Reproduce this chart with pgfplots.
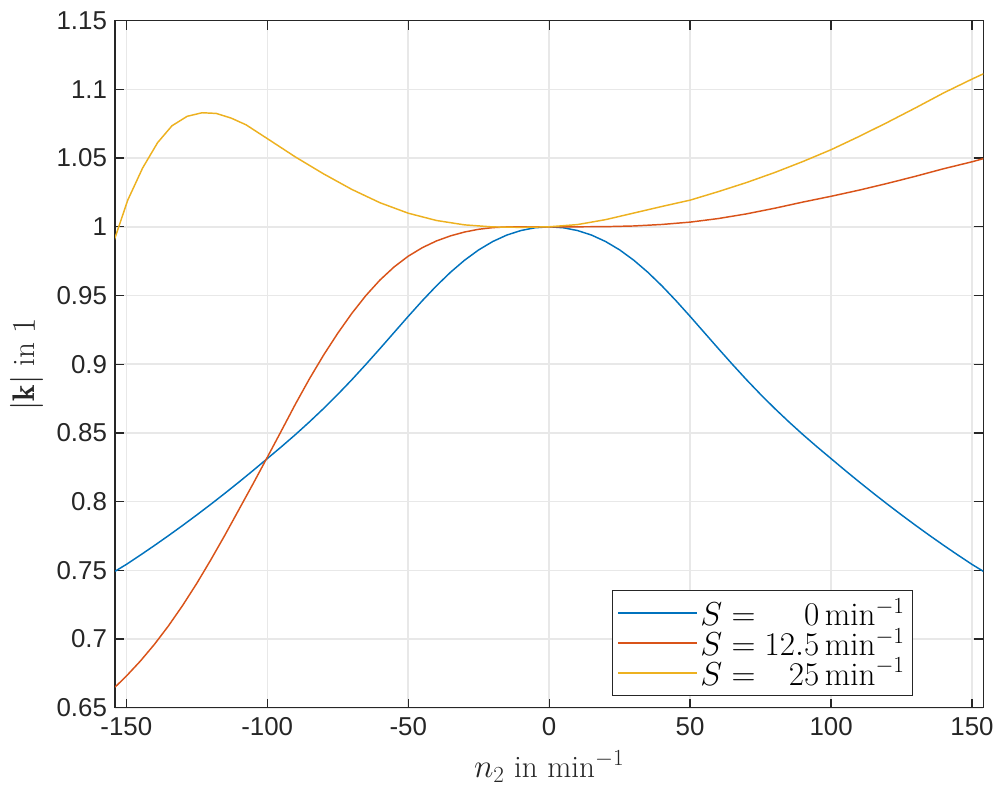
\documentclass[border=0pt]{standalone}
\usepackage{fontspec}
\usepackage{pgfplots}
\usepackage{pgfplotstable}
\pgfplotsset{compat=1.18}
\newfontfamily\ticksans{Liberation Sans}

\definecolor{mblue}{rgb}{0,0.447,0.741}
\definecolor{mred}{rgb}{0.850,0.325,0.098}
\definecolor{myellow}{rgb}{0.929,0.694,0.125}
\definecolor{axgray}{rgb}{0.15,0.15,0.15}
\definecolor{gridgray}{rgb}{0.91,0.91,0.91}

% |k| over n2 for S = 0
\pgfplotstableread{
n k
-154 0.7493
-150 0.7543
-145 0.7611
-140 0.7681
-135 0.7753
-130 0.7827
-125 0.7903
-120 0.7981
-115 0.8061
-110 0.8143
-105 0.8227
-100 0.8313
-95 0.8399
-90 0.8488
-85 0.8581
-80 0.8678
-75 0.8780
-70 0.8887
-65 0.8999
-60 0.9114
-55 0.9231
-50 0.9348
-45 0.9462
-40 0.9570
-35 0.9669
-30 0.9757
-25 0.9832
-20 0.9893
-15 0.9940
-10 0.9973
-5 0.9993
0 1.0000
5 0.9993
10 0.9973
15 0.9940
20 0.9893
25 0.9832
30 0.9757
35 0.9669
40 0.9570
45 0.9462
50 0.9348
55 0.9231
60 0.9114
65 0.8999
70 0.8887
75 0.8780
80 0.8678
85 0.8581
90 0.8488
95 0.8399
100 0.8313
105 0.8227
110 0.8143
115 0.8061
120 0.7981
125 0.7903
130 0.7827
135 0.7753
140 0.7681
145 0.7611
150 0.7543
154 0.7493
}\dataA

% S = 12.5
\pgfplotstableread{
n k
-154 0.6650
-150 0.6730
-145 0.6840
-140 0.6962
-135 0.7097
-130 0.7245
-125 0.7405
-120 0.7577
-115 0.7757
-110 0.7944
-105 0.8131
-100 0.8322
-95 0.8515
-90 0.8710
-85 0.8895
-80 0.9067
-75 0.9225
-70 0.9370
-65 0.9500
-60 0.9613
-55 0.9708
-50 0.9786
-45 0.9848
-40 0.9897
-35 0.9934
-30 0.9962
-25 0.9982
-20 0.9994
-15 0.9999
-10 1.0000
0 1.0000
10 1.0000
20 1.0001
30 1.0006
40 1.0017
50 1.0034
60 1.0060
70 1.0094
80 1.0135
90 1.0180
100 1.0222
110 1.0267
120 1.0316
130 1.0368
140 1.0423
150 1.0473
154 1.0496
}\dataB

% S = 25
\pgfplotstableread{
n k
-154.2 0.9907
-149.5 1.0193
-144.2 1.0428
-138.9 1.0612
-133.8 1.0735
-128.4 1.0804
-123.1 1.0830
-118.1 1.0825
-112.8 1.0791
-107.5 1.0742
-100 1.0642
-90 1.0508
-80 1.0385
-70 1.0272
-60 1.0175
-50 1.0099
-40 1.0046
-30 1.0014
-20 0.9999
-10 0.9996
0 1.0000
10 1.0016
20 1.0052
30 1.0100
40 1.0148
50 1.0194
60 1.0256
70 1.0322
80 1.0395
90 1.0475
100 1.0561
110 1.0658
120 1.0760
130 1.0866
140 1.0975
150 1.1075
154 1.1113
}\dataC

\begin{document}
\begin{tikzpicture}
\begin{axis}[
  name=ax,
  scale only axis,
  width=651.2pt, height=515.3pt,
  xmin=-154, xmax=154, ymin=0.65, ymax=1.15,
  xtick={-150,-100,-50,0,50,100,150},
  xticklabels={-150,-100,-50,0,50,100,150},
  ytick={0.65,0.7,0.75,0.8,0.85,0.9,0.95,1,1.05,1.1,1.15},
  yticklabels={0.65,0.7,0.75,0.8,0.85,0.9,0.95,1,1.05,1.1,1.15},
  grid=major,
  major grid style={gridgray, line width=1.1pt},
  axis line style={axgray, line width=1pt},
  tick style={axgray, line width=1pt},
  major tick length=6.75pt,
  tick align=inside,
  ticklabel style={font=\ticksans\fontsize{19.4}{23}\selectfont, text=axgray},
  xticklabel style={yshift=-4pt},
  yticklabel style={xshift=-2.5pt},
  label style={font=\fontsize{23.4}{28}\selectfont, text=axgray},
  xlabel={$n_2$ in $\mathrm{min}^{-1}$},
  ylabel={$|\mathbf{k}|$ in $1$},
  xlabel style={at={(axis description cs:0.5,-0.1013)}, anchor=base},
  ylabel style={at={(axis description cs:-0.1017,0.5)}, anchor=center},
  legend style={at={(0.9194,0.017)}, anchor=south east, draw=axgray,
    line width=1pt, font=\fontsize{24.8}{29}\selectfont, text=black,
    inner xsep=4pt, inner ysep=4pt, row sep=-3.5pt},
  legend cell align=left,
  legend image code/.code={\draw[#1] (0pt,0pt) -- (59pt,0pt);},
]
\addplot[mblue, line width=1.1pt] table[x=n, y=k] {\dataA};
\addlegendentry{$S = \hphantom{12.}0\,\mathrm{min}^{-1}$}
\addplot[mred, line width=1.1pt] table[x=n, y=k] {\dataB};
\addlegendentry{$S = 12.5\,\mathrm{min}^{-1}$}
\addplot[myellow, line width=1.1pt] table[x=n, y=k] {\dataC};
\addlegendentry{$S = \hphantom{1.}25\,\mathrm{min}^{-1}$}
\end{axis}
\pgfresetboundingbox
\path ([xshift=-86.25pt,yshift=-58pt]ax.south west) rectangle ([xshift=8pt,yshift=15.5pt]ax.north east);
\end{tikzpicture}
\end{document}
